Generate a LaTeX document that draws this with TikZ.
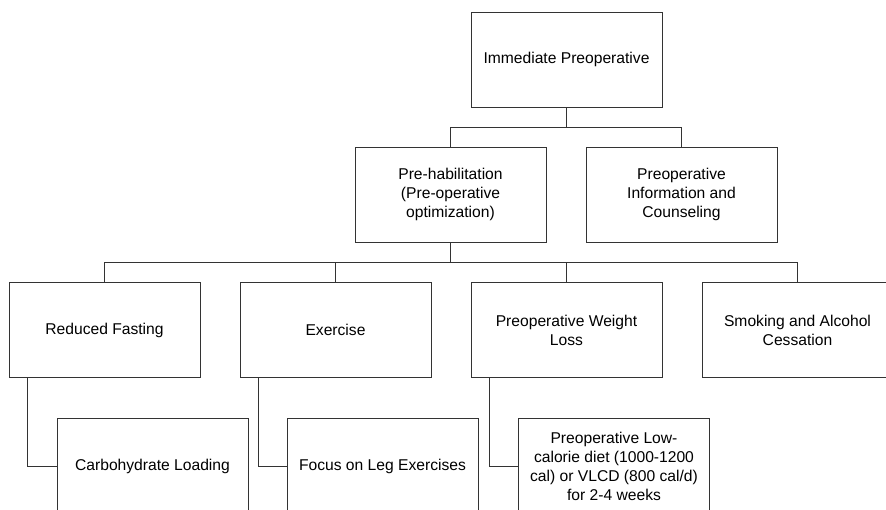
\documentclass[tikz,border=0pt]{standalone}
\usepackage{fontspec}
\setmainfont{Liberation Sans}
\usepackage{xcolor}

\tikzset{
  stage/.style={draw=black!80,line width=0.5pt,align=center,
    minimum width=3.82cm,minimum height=1.9cm,inner sep=2pt,
    font=\fontsize{8.9}{10.8}\selectfont},
  link/.style={draw=black!80,line width=0.5pt}
}

\begin{document}
\begin{tikzpicture}[x=0.02cm,y=-0.02cm]
\useasboundingbox (0,0) rectangle (886,510);
\path
    (566.5,59.5) node [stage] (immed) {Immediate Preoperative}
    (450.5,194.5) node [stage] (prehab) {Pre-habilitation\\(Pre-operative\\optimization)}
    (681.5,194.5) node [stage] (info) {Preoperative\\Information and\\Counseling}
    (104.5,330) node [stage] (fasting) {Reduced Fasting}
    (335.5,330) node [stage] (exercise) {Exercise}
    (566.5,330) node [stage] (weight) {Preoperative Weight\\Loss}
    (797.5,330) node [stage] (smoking) {Smoking and Alcohol\\Cessation}
    (152.5,466) node [stage] (carbo) {Carbohydrate Loading}
    (382.5,466) node [stage] (legs) {Focus on Leg Exercises}
    (614,466) node [stage] (lowcal) {Preoperative Low-\\calorie diet (1000-1200\\cal) or VLCD (800 cal/d)\\for 2-4 weeks};
% first split
\draw [link] (immed.south) -- +(0,20) coordinate (split1);
\draw [link] (prehab.north) |- (split1) -| (info.north);
% second split
\draw [link] (prehab.south) -- +(0,20) coordinate (split2);
\draw [link] (fasting.north) |- (split2) -| (smoking.north);
\draw [link] (exercise.north) -- (exercise.north |- split2);
\draw [link] (weight.north) -- (weight.north |- split2);
% sub items
\draw [link] (fasting.south west) ++(19,0) |- (carbo.west);
\draw [link] (exercise.south west) ++(19,0) |- (legs.west);
\draw [link] (weight.south west) ++(19,0) |- (lowcal.west);
\end{tikzpicture}
\end{document}
